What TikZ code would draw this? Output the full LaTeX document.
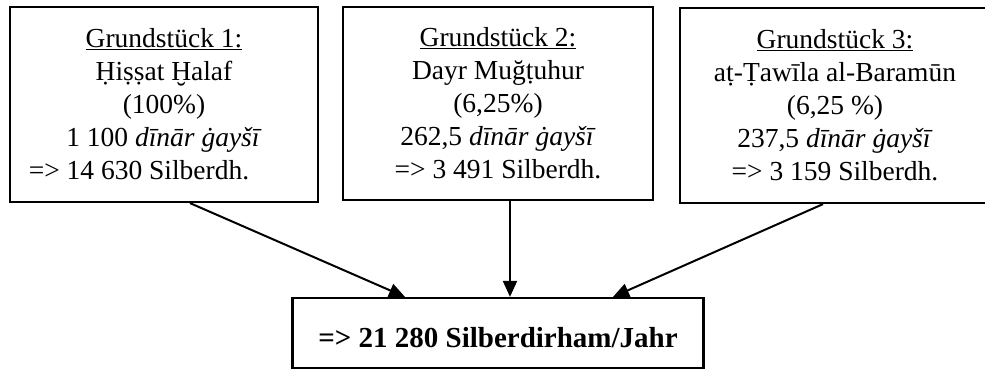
\documentclass[tikz,border=0pt]{standalone}
\usepackage{fontspec}
\setmainfont{Liberation Serif}
\usetikzlibrary{arrows.meta,calc}
\begin{document}
\begin{tikzpicture}[x=1pt,y=-1pt,
  box/.style={draw,line width=2.2pt,inner sep=0pt,align=center,
    font=\fontsize{27.5}{33}\selectfont},
  totbox/.style={draw,line width=2.2pt,inner sep=0pt,text height=28pt,text depth=0pt,
    font=\bfseries\fontsize{29}{33}\selectfont},
  conn/.style={line width=2pt,-{Triangle[length=16pt,width=14pt]}}]
\clip (0,0) rectangle (985,371);
\node[box,minimum width=308pt,minimum height=195pt] (b1) at (164,104.5)
  {\underline{Grundstück 1:}\\ Ḥiṣṣat Ḫalaf\\ (100\%)\\ 1 100 \textit{dīnār ġayšī}\\ \hspace*{-50pt}=> 14 630 Silberdh.};
\node[box,minimum width=310pt,minimum height=193pt] (b2) at (498,103.5)
  {\underline{Grundstück 2:}\\ Dayr Muğṭuhur\\ (6,25\%)\\ 262,5 \textit{dīnār ġayšī}\\ => 3 491 Silberdh.};
\node[box,minimum width=310pt,minimum height=195pt] (b3) at (835,105.5)
  {\underline{Grundstück 3:}\\ aṭ-Ṭawīla al-Baramūn\\ (6,25 \%)\\ 237,5 \textit{dīnār ġayšī}\\ => 3 159 Silberdh.};
\node[totbox,minimum width=411pt,minimum height=70pt] (tot) at (498,333)
  {=> 21 280 Silberdirham/Jahr};
\draw[conn] ($(b1.south)+(26,0)$) -- ($(tot.north)+(-93,0)$);
\draw[conn] ($(b2.south)+(12,0)$) -- ($(tot.north)+(12,0)$);
\draw[conn] ($(b3.south)+(-12,0)$) -- ($(tot.north)+(115,0)$);
\end{tikzpicture}
\end{document}
